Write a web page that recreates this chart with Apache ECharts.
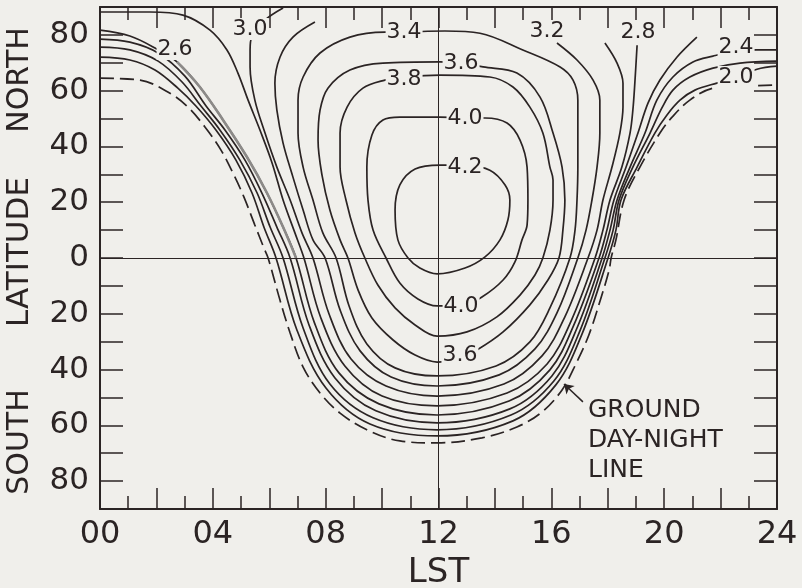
<!DOCTYPE html>
<html>
<head>
<meta charset="utf-8">
<script src="https://cdn.jsdelivr.net/npm/echarts@6/dist/echarts.min.js"></script>
<style>
html,body{margin:0;padding:0;background:#f0efeb;}
#chart{width:802px;height:588px;}
</style>
</head>
<body>
<div id="chart"></div>
<script>
var ink = '#2b2424';
var bg = '#f0efeb';
var font = 'DejaVu Sans';

// contour lines, points are [LST hour, latitude]
var c42 = [[12.94,33.3],[12.05,33.3],[11.17,31.9],[10.63,26.2],[10.46,17.2],[10.56,6.5],[10.92,0],[11.34,-3.6],[11.95,-5.7],[12.94,-3.6],[13.65,0.4],[14.18,6.5],[14.46,13.6],[14.53,20.8],[14.36,26.2],[13.82,31.5],[12.94,33.3]];
var c40 = [[12.94,50.2],[12.05,50.5],[10.63,50.5],[10.03,49.5],[9.64,44.1],[9.46,32.6],[9.50,20.8],[9.68,10.0],[10.14,0],[10.63,-9.0],[11.27,-14.7],[11.95,-17.2],[12.83,-17.2],[13.54,-14.0],[14.29,-7.9],[14.71,-1.4],[14.96,6.5],[15.14,11.8],[15.17,20.8],[15.14,32.6],[14.89,42.3],[14.43,48.4],[13.65,50.2],[12.94,50.2]];
var c38 = [[10.78,64.9],[10.10,63.8],[9.32,60.9],[8.76,54.1],[8.51,44.8],[8.51,32.6],[8.72,20.8],[9.04,9.0],[9.39,0],[9.85,-9.7],[10.46,-17.9],[11.17,-24.0],[11.95,-28.0],[13.01,-26.5],[14.07,-21.1],[14.89,-13.3],[15.42,-6.1],[15.70,0],[15.95,10.0],[16.06,20.8],[16.06,28.0],[15.95,32.6],[15.70,44.8],[15.24,54.1],[14.64,61.3],[13.82,64.9],[12.05,65.6],[10.78,64.9]];
var c36 = [[12.80,69.9],[12.05,70.3],[10.03,69.9],[8.86,67.4],[8.08,60.9],[7.80,53.0],[7.73,42.3],[7.87,29.7],[8.15,17.2],[8.51,6.5],[8.79,0],[9.15,-11.5],[9.64,-21.5],[10.39,-29.4],[11.17,-34.8],[11.95,-37.3],[12.76,-35.8],[13.36,-33.0],[14.29,-26.5],[15.24,-16.8],[15.88,-7.9],[16.27,0],[16.41,10.0],[16.48,20.8],[16.38,32.6],[16.06,44.8],[15.60,57.7],[14.78,66.3],[13.58,68.5],[12.80,69.9]];
var c34 = [[10.78,81.0],[10.10,81.0],[8.86,79.2],[7.80,73.5],[7.20,64.9],[7.02,56.6],[7.02,44.8],[7.20,32.6],[7.55,20.8],[7.90,9.0],[8.37,0],[8.83,-17.2],[9.46,-30.8],[10.46,-39.4],[11.95,-42.3],[14.04,-38.7],[15.24,-30.1],[15.95,-17.9],[16.66,0],[16.84,10.0],[16.91,20.8],[16.94,32.6],[16.94,44.8],[16.94,56.6],[16.77,63.8],[16.31,68.5],[14.99,74.6],[13.47,80.6],[12.23,81.4],[10.78,81.0]];
var c32 = [[7.62,84.6],[6.84,79.2],[6.38,72.0],[6.20,62.7],[6.27,53.0],[6.49,41.2],[6.84,29.0],[7.20,17.2],[7.55,6.5],[7.98,0],[8.51,-18.6],[9.22,-33.3],[10.32,-42.7],[11.95,-45.9],[14.15,-41.9],[15.42,-32.6],[16.20,-19.7],[16.94,0],[17.23,10.0],[17.44,20.8],[17.62,32.6],[17.72,44.8],[17.72,56.6],[17.48,63.8],[16.91,71.0],[16.20,77.1]];
var c30 = [[6.49,89.6],[5.85,85.3],[5.39,79.6],[5.32,74.6],[5.32,68.5],[5.49,56.6],[5.85,44.8],[6.27,32.6],[6.74,20.8],[7.16,9.0],[7.55,0],[8.12,-20.1],[8.90,-36.2],[10.14,-45.9],[11.95,-49.5],[14.32,-45.2],[15.67,-35.1],[16.48,-21.1],[17.30,0],[17.62,10.0],[17.83,20.8],[18.15,32.6],[18.43,44.8],[18.54,54.1],[18.54,62.7],[18.33,69.9],[17.90,77.1]];
var c28 = [[0,88.2],[1.77,88.2],[2.94,87.1],[3.90,81.7],[4.50,74.6],[4.89,66.3],[5.25,56.6],[5.67,45.9],[6.10,34.1],[6.49,20.8],[6.91,9.0],[7.23,0],[7.83,-21.5],[8.68,-38.7],[10.00,-49.5],[11.95,-53.0],[14.43,-48.4],[15.85,-38.0],[16.70,-22.6],[17.55,0],[17.83,10.0],[18.08,20.8],[18.50,32.6],[18.79,44.8],[18.89,53.0],[18.96,62.7],[19.04,76.3]];
var c26 = [[0,81.7],[1.06,79.6],[1.95,75.3],[2.73,70.3],[3.54,61.3],[4.36,49.5],[5.21,36.2],[5.92,23.3],[6.49,11.1],[6.95,0],[7.59,-22.9],[8.47,-41.2],[9.89,-52.3],[11.95,-56.3],[14.50,-51.3],[15.95,-40.1],[16.80,-24.0],[17.69,0],[17.97,10.0],[18.22,20.8],[18.65,32.6],[19.07,44.8],[19.43,55.6],[19.85,63.8],[20.45,72.0],[21.16,79.2]];
var c24 = [[0,78.5],[1.06,77.4],[2.06,73.5],[3.01,65.2],[3.76,54.5],[4.43,45.9],[5.14,35.1],[5.74,23.3],[6.27,11.1],[6.74,0],[7.41,-24.0],[8.33,-43.0],[9.78,-54.8],[11.95,-59.1],[14.53,-54.1],[16.02,-42.3],[16.91,-25.1],[17.80,0],[18.08,10.0],[18.33,20.8],[18.79,32.6],[19.32,44.8],[19.74,56.6],[20.31,64.9],[21.02,70.3],[21.73,72.4],[22.55,74.2],[23.29,74.6],[24,74.6]];
var c22 = [[0,75.6],[1.06,74.6],[2.06,70.6],[2.91,63.1],[3.58,54.5],[4.25,45.9],[4.96,35.1],[5.57,23.3],[6.03,11.1],[6.49,0],[7.20,-25.1],[8.15,-45.2],[9.68,-57.3],[11.95,-61.6],[14.57,-56.3],[16.09,-44.1],[17.01,-26.2],[17.90,0],[18.19,10.0],[18.40,20.8],[18.89,32.6],[19.50,44.8],[19.92,53.8],[20.31,60.2],[20.91,64.9],[21.73,68.1],[22.69,69.9],[24,70.6]];
var c20 = [[0,72.0],[1.06,71.0],[1.95,67.4],[2.76,60.9],[3.40,54.5],[4.11,45.9],[4.82,35.1],[5.39,23.3],[5.81,11.1],[6.24,0],[6.98,-25.8],[8.01,-46.6],[9.57,-59.5],[11.95,-63.8],[14.64,-58.4],[16.16,-45.5],[17.09,-27.2],[18.01,0],[18.29,10.0],[18.47,20.8],[19.04,32.6],[19.67,44.8],[20.10,51.3],[20.56,56.6],[21.09,60.2],[21.87,62.7],[22.55,64.5],[23.29,67.7],[24,68.8]];
// ground day-night line (dashed)
var dayNight = [[0,64.5],[1.42,63.8],[2.48,59.1],[3.12,54.1],[3.72,47.0],[4.29,38.7],[4.75,29.7],[5.10,21.9],[5.49,11.8],[5.81,3.6],[5.96,0],[6.38,-15.1],[6.74,-26.9],[7.20,-39.1],[7.80,-48.4],[8.51,-55.6],[9.46,-61.6],[10.63,-65.6],[11.95,-66.3],[13.54,-64.5],[14.78,-60.6],[15.67,-55.2],[16.38,-47.3],[16.87,-38.0],[17.33,-27.6],[17.76,-14.3],[18.05,-4.3],[18.12,0],[18.29,6.5],[18.58,20.8],[19.14,32.6],[19.85,44.8],[20.28,50.5],[20.91,56.6],[21.73,60.9],[22.69,61.6],[24,62.0]];

// contour value labels: [LST, latitude, text]
var contourLabels = [
  [5.32,82.1,'3.0'],[2.66,74.9,'2.6'],[10.78,81.0,'3.4'],[12.80,69.9,'3.6'],
  [10.78,64.2,'3.8'],[12.94,50.2,'4.0'],[12.94,32.6,'4.2'],[15.85,81.4,'3.2'],
  [19.07,81.0,'2.8'],[22.55,75.6,'2.4'],[22.55,64.9,'2.0'],
  [12.80,-17.2,'4.0'],[12.76,-34.8,'3.6']
];
var arrowLine = [[17.12,-51.6],[16.45,-45.2]];

function pad(v){ return v < 10 ? '0' + v : '' + v; }

function contour(d){
  return {type:'line', data:d, symbol:'none', smooth:0.35, silent:true,
    lineStyle:{color:ink, width:1.7}, z:2};
}

var series = [c42,c40,c38,c36,c34,c32,c30,c28,c26,c24,c22,c20].map(contour);
// faded stretch of the 2.6 line on the left
series.push({type:'line', data:c26.slice(3,10), symbol:'none', smooth:0.35, silent:true,
  lineStyle:{color:'#8c8a88', width:2.6}, z:3});
series.push({type:'line', data:dayNight, symbol:'none', smooth:0.35, silent:true,
  lineStyle:{color:ink, width:1.7, type:[14,6]}, z:2,
  markLine:{silent:true, symbol:'none', label:{show:false},
    lineStyle:{color:ink, width:1, type:'solid'},
    data:[{yAxis:0},{xAxis:12}]}});
series.push({type:'scatter', symbol:'circle', symbolSize:1, itemStyle:{color:bg, opacity:1},
  data:contourLabels.map(function(l){ return {value:[l[0],l[1]], name:l[2]}; }),
  label:{show:true, position:'inside', formatter:function(p){ return p.name; },
    fontSize:22, fontFamily:font, color:ink, opacity:1, textBorderWidth:0,
    backgroundColor:bg, padding:[0,1]}, z:5});
series.push({type:'lines', coordinateSystem:'cartesian2d', silent:true,
  data:[{coords:arrowLine}], symbol:['none','arrow'], symbolSize:9,
  lineStyle:{color:ink, width:1.5, curveness:0, opacity:1}, z:4});

function hourAxis(pos, labels){
  return {
    type:'value', min:0, max:24, interval:2, position:pos,
    axisLine:{onZero:false, lineStyle:{color:ink, width:2}},
    axisTick:{inside:true, length:21, lineStyle:{color:ink, width:1.5}},
    minorTick:{show:true, splitNumber:2, length:13, lineStyle:{color:ink, width:1.5}},
    splitLine:{show:false},
    axisLabel:{show:labels, fontSize:32, color:ink, margin:10,
      formatter:function(v){ return v % 4 === 0 ? pad(v) : ''; }}
  };
}
function latAxis(pos, labels){
  return {
    type:'value', min:-90, max:90, interval:10, position:pos,
    axisLine:{onZero:false, lineStyle:{color:ink, width:2}},
    axisTick:{inside:true, length:23, lineStyle:{color:ink, width:1.5}},
    splitLine:{show:false},
    axisLabel:{show:labels, fontSize:31, color:ink, margin:11, formatter:function(v){
      return (v % 20 === 0 && Math.abs(v) < 90) ? '' + Math.abs(v) : ''; }}
  };
}

var xBottom = hourAxis('bottom', true);
xBottom.name = 'LST';
xBottom.nameLocation = 'middle';
xBottom.nameGap = 46;
xBottom.nameTextStyle = {fontSize:34, color:ink};

var chart = echarts.init(document.getElementById('chart'));
chart.setOption({
  backgroundColor: bg,
  animation: false,
  textStyle: {fontFamily: font, color: ink},
  grid: {left:100, right:25, top:7, bottom:79, containLabel:false, outerBoundsMode:'none'},
  xAxis: [xBottom, hourAxis('top', false)],
  yAxis: [latAxis('left', true), latAxis('right', false)],
  graphic: [
    {type:'text', x:20, y:80, rotation:Math.PI/2,
      style:{text:'NORTH', fontSize:30, fontFamily:font, fill:ink, align:'center', verticalAlign:'middle'}},
    {type:'text', x:20, y:252, rotation:Math.PI/2,
      style:{text:'LATITUDE', fontSize:31, fontFamily:font, fill:ink, align:'center', verticalAlign:'middle'}},
    {type:'text', x:20, y:442, rotation:Math.PI/2,
      style:{text:'SOUTH', fontSize:30, fontFamily:font, fill:ink, align:'center', verticalAlign:'middle'}},
    {type:'text', x:588, y:395,
      style:{text:'GROUND\nDAY-NIGHT\nLINE', fontSize:25, lineHeight:30, fontFamily:font, fill:ink, align:'left', verticalAlign:'top'}}
  ],
  series: series
});
</script>
</body>
</html>
